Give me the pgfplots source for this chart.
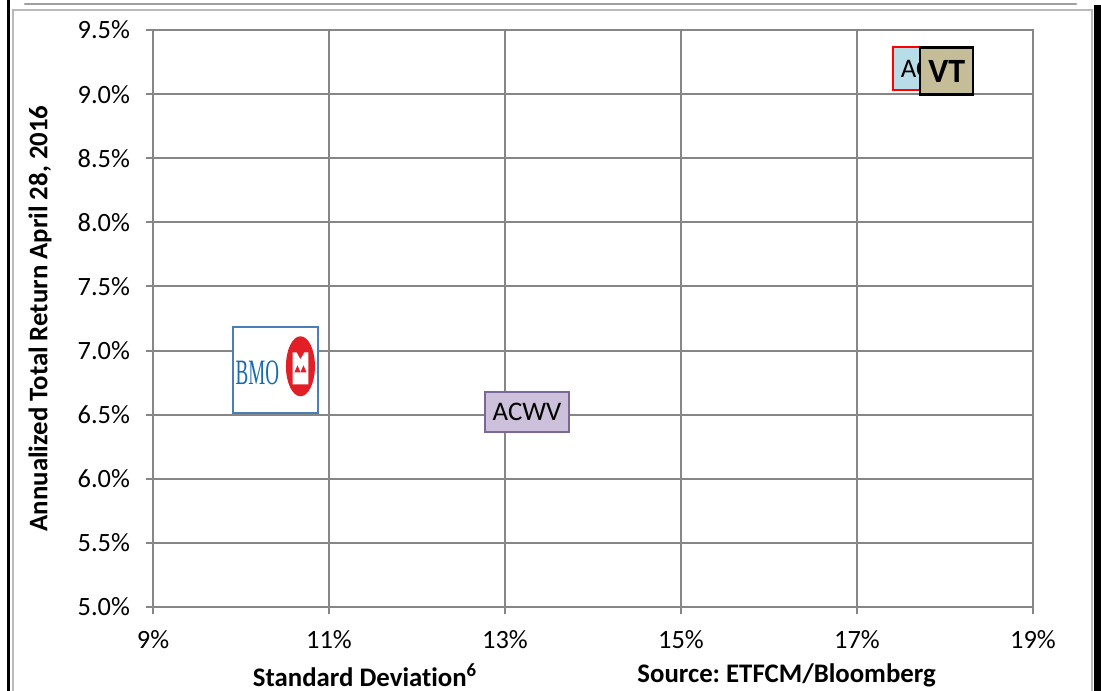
\documentclass[border=0pt]{standalone}
\usepackage{pgfplots}
\pgfplotsset{compat=1.18}
\usepackage{fontspec}
\setmainfont{Carlito}[RawFeature={-liga,-clig}]
\newfontfamily\bmofont{Liberation Serif}
\definecolor{gridgray}{HTML}{868686}
\definecolor{acwvfill}{HTML}{CCC0DA}
\definecolor{acwvdraw}{HTML}{7A679A}
\definecolor{acwifill}{HTML}{B7DEE8}
\definecolor{vtfill}{HTML}{C4BD97}
\definecolor{bmoblue}{HTML}{1A6BAE}
\definecolor{bmoframe}{HTML}{4A7EBB}
\definecolor{bmored}{HTML}{E21E26}
\newsavebox\bmobox
\frenchspacing
\begin{document}
\sbox\bmobox{\begin{tikzpicture}[x=0.5bp,y=0.5bp]
  \path (0,-38) -- (0,31);
  \node[inner sep=0pt, text=bmoblue, font=\bmofont\fontsize{17bp}{17bp}\selectfont, anchor=base east] at (-21,-18) {\scalebox{0.56}[1.05]{BMO}};
  \fill[bmored] (0,0) ellipse [x radius=14.5, y radius=30];
  \fill[white] (-7.8,-18) -- (-7.8,14) -- (-4,14) -- (0,7) -- (4,14) -- (7.8,14) -- (7.8,-18) -- cycle;
  \fill[bmored] (-6,-6) -- (-3,1) -- (0,-6) -- cycle;
  \fill[bmored] (0,-6) -- (3,1) -- (6,-6) -- cycle;
\end{tikzpicture}}%
\begin{tikzpicture}
\useasboundingbox (0,0) rectangle (550.5bp,345.5bp);
\fill[black] (3.65bp,0) rectangle (5.15bp,345.5bp);
\draw[gray!55, line width=1bp] (6.3bp,0) -- (6.3bp,340.5bp) -- (545.75bp,340.5bp) -- (545.75bp,0);
\fill[black] (546.75bp,0) rectangle (550.5bp,343bp);
\draw[gray!75, line width=1.2bp, line cap=round] (12.5bp,343.6bp) -- (538bp,343.6bp);
\begin{axis}[
  at={(76.5bp,42bp)}, anchor=south west,
  scale only axis, width=440bp, height=288.5bp,
  xmin=9, xmax=19, ymin=5, ymax=9.5,
  xtick={9,11,13,15,17,19},
  ytick={5,5.5,6,6.5,7,7.5,8,8.5,9,9.5},
  xticklabels={9\%,11\%,13\%,15\%,17\%,19\%},
  yticklabels={5.0\%,5.5\%,6.0\%,6.5\%,7.0\%,7.5\%,8.0\%,8.5\%,9.0\%,9.5\%},
  grid=major, major grid style={gridgray, line width=1bp},
  axis line style={gridgray, line width=1bp},
  tick style={gridgray, line width=1bp},
  tick align=outside, major tick length=3.5bp, tick pos=left,
  tick label style={font=\fontsize{13.2bp}{15bp}\selectfont, black},
  yticklabel style={xshift=-4.5bp},
  xticklabel style={yshift=-4.5bp},
  clip=false,
]
\addplot[draw=none, mark=none, nodes near coords={ACWV}, nodes near coords align={anchor=center},
  every node near coord/.append style={draw=acwvdraw, fill=acwvfill, line width=1bp, minimum width=42bp, minimum height=20bp, inner sep=0pt, font=\fontsize{13.4bp}{16bp}\selectfont, text=black}]
  coordinates {(13.25,6.52)};
\addplot[draw=none, mark=none, nodes near coords={\usebox\bmobox}, nodes near coords align={anchor=center},
  every node near coord/.append style={draw=bmoframe, fill=white, line width=0.75bp, minimum width=42.5bp, minimum height=43bp, inner sep=0pt}]
  coordinates {(10.39,6.85)};
\addplot[draw=none, mark=none, nodes near coords={ACWI}, nodes near coords align={anchor=center},
  every node near coord/.append style={draw=red, fill=acwifill, line width=0.8bp, minimum width=38bp, minimum height=21.5bp, inner sep=0pt, font=\fontsize{13.4bp}{16bp}\selectfont, text=black}]
  coordinates {(17.84,9.20)};
\addplot[draw=none, mark=none, nodes near coords={VT}, nodes near coords align={anchor=center},
  every node near coord/.append style={draw=black, fill=vtfill, line width=1.2bp, minimum width=26.5bp, minimum height=23.5bp, inner sep=0pt, font=\bfseries\fontsize{17bp}{20bp}\selectfont, text=black}]
  coordinates {(18.02,9.18)};
\node[font=\bfseries\fontsize{13.4bp}{16bp}\selectfont] at ([yshift=-34bp]rel axis cs:0.241,0) {Standard Deviation\textsuperscript{6}};
\node[font=\bfseries\fontsize{13.4bp}{16bp}\selectfont] at ([yshift=-34bp]rel axis cs:0.72,0) {Source: ETFCM/Bloomberg};
\node[rotate=90, font=\bfseries\fontsize{13.4bp}{16bp}\selectfont] at ([xshift=-56.5bp]rel axis cs:0,0.5) {Annualized Total Return April 28, 2016};
\end{axis}
\end{tikzpicture}
\end{document}
